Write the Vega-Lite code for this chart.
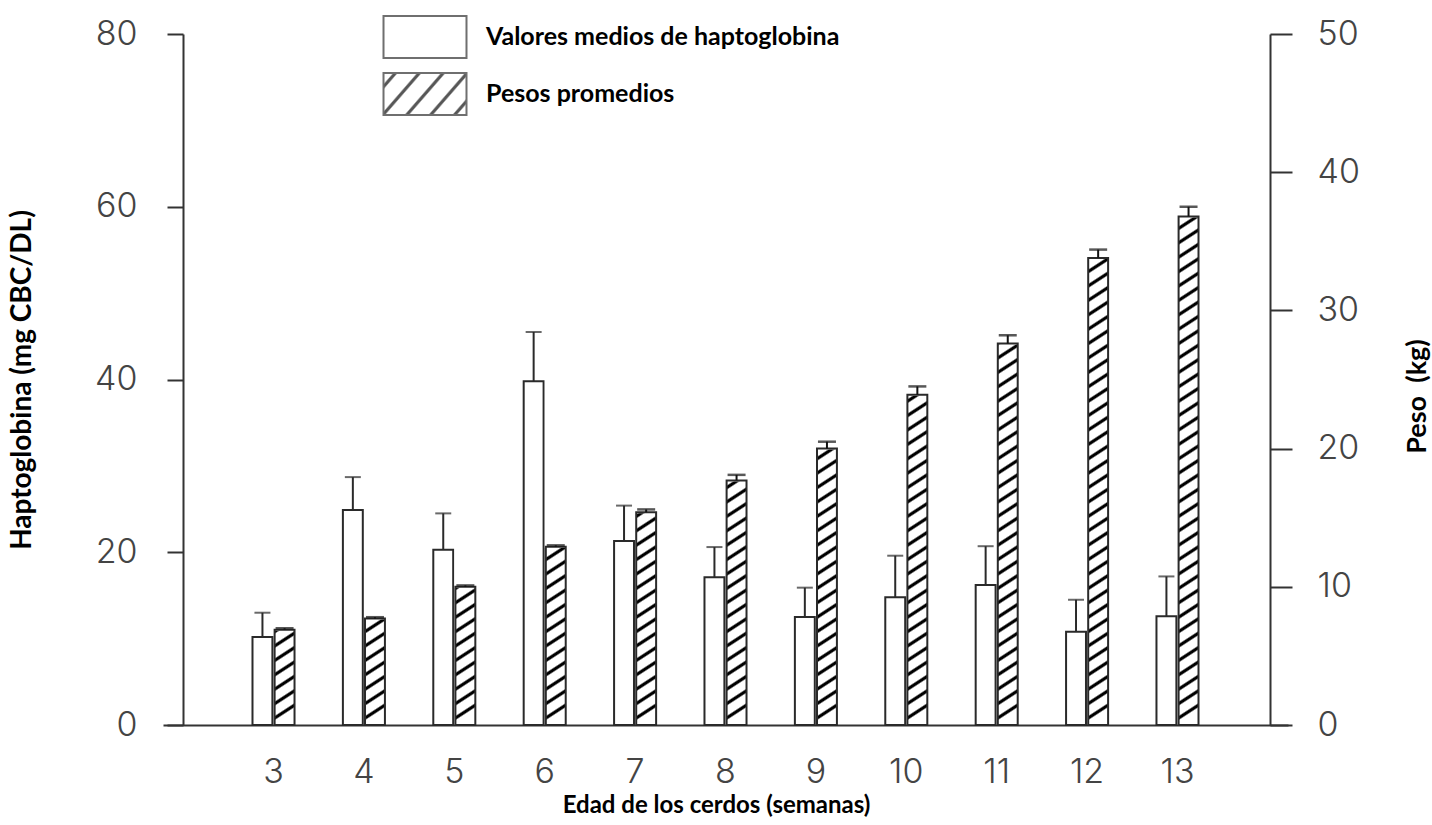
{
  "$schema": "https://vega.github.io/schema/vega-lite/v6.json",
  "width": 1125,
  "height": 691,
  "autosize": {"type": "none"},
  "padding": {"left": 163, "top": 34, "right": 144, "bottom": 100},
  "background": "white",
  "config": {"view": {"stroke": null}},
  "data": {
    "values": [
      {"semana": 3, "serie": "Valores medios de haptoglobina", "valor": 10.2, "sup": 13.0},
      {"semana": 4, "serie": "Valores medios de haptoglobina", "valor": 24.9, "sup": 28.7},
      {"semana": 5, "serie": "Valores medios de haptoglobina", "valor": 20.3, "sup": 24.5},
      {"semana": 6, "serie": "Valores medios de haptoglobina", "valor": 39.8, "sup": 45.5},
      {"semana": 7, "serie": "Valores medios de haptoglobina", "valor": 21.3, "sup": 25.4},
      {"semana": 8, "serie": "Valores medios de haptoglobina", "valor": 17.1, "sup": 20.6},
      {"semana": 9, "serie": "Valores medios de haptoglobina", "valor": 12.5, "sup": 15.9},
      {"semana": 10, "serie": "Valores medios de haptoglobina", "valor": 14.8, "sup": 19.6},
      {"semana": 11, "serie": "Valores medios de haptoglobina", "valor": 16.2, "sup": 20.7},
      {"semana": 12, "serie": "Valores medios de haptoglobina", "valor": 10.8, "sup": 14.5},
      {"semana": 13, "serie": "Valores medios de haptoglobina", "valor": 12.6, "sup": 17.2},
      {"semana": 3, "serie": "Pesos promedios", "valor": 6.9, "sup": 7.0},
      {"semana": 4, "serie": "Pesos promedios", "valor": 7.7, "sup": 7.8},
      {"semana": 5, "serie": "Pesos promedios", "valor": 10.0, "sup": 10.1},
      {"semana": 6, "serie": "Pesos promedios", "valor": 12.9, "sup": 13.0},
      {"semana": 7, "serie": "Pesos promedios", "valor": 15.4, "sup": 15.6},
      {"semana": 8, "serie": "Pesos promedios", "valor": 17.7, "sup": 18.1},
      {"semana": 9, "serie": "Pesos promedios", "valor": 20.0, "sup": 20.5},
      {"semana": 10, "serie": "Pesos promedios", "valor": 23.9, "sup": 24.5},
      {"semana": 11, "serie": "Pesos promedios", "valor": 27.6, "sup": 28.2},
      {"semana": 12, "serie": "Pesos promedios", "valor": 33.8, "sup": 34.4},
      {"semana": 13, "serie": "Pesos promedios", "valor": 36.8, "sup": 37.5}
    ]
  },
  "encoding": {
    "x": {
      "field": "semana",
      "type": "ordinal",
      "scale": {"paddingInner": 0.535, "paddingOuter": 0.99},
      "axis": {
        "title": "Edad de los cerdos (semanas)",
        "labelAngle": 0,
        "ticks": false,
        "tickSize": 0,
        "labelPadding": 30,
        "labelFont": "Inter",
        "labelFontWeight": 300,
        "labelFontSize": 34,
        "labelColor": "#444",
        "domainColor": "#333",
        "domainWidth": 2,
        "titleFont": "Lato",
        "titleFontWeight": "bold",
        "titleFontSize": 24,
        "titleColor": "#000",
        "titleX": 553,
        "titleY": 80,
        "titleBaseline": "middle"
      }
    },
    "xOffset": {
      "field": "serie",
      "type": "nominal",
      "scale": {"domain": ["Valores medios de haptoglobina", "Pesos promedios"], "paddingInner": 0.1}
    }
  },
  "layer": [
    {
      "transform": [{"filter": "datum.serie === 'Valores medios de haptoglobina'"}],
      "encoding": {
        "y": {
          "field": "valor",
          "type": "quantitative",
          "scale": {"domain": [0, 80], "nice": false},
          "axis": {
            "orient": "left",
            "offset": -20,
            "values": [0, 20, 40, 60, 80],
            "grid": false,
            "tickSize": 16,
            "tickWidth": 2,
            "tickColor": "#333",
            "domainColor": "#333",
            "domainWidth": 2,
            "labelPadding": 30,
            "labelFont": "Inter",
            "labelFontWeight": 300,
            "labelFontSize": 34,
            "labelColor": "#444",
            "title": "Haptoglobina (mg CBC/DL)",
            "titleFont": "Lato",
            "titleFontWeight": "bold",
            "titleFontSize": 28,
            "titleColor": "#000",
            "titleX": -161,
            "titleY": 345.5,
            "titleAngle": -90,
            "titleBaseline": "middle",
            "titleAlign": "center"
          }
        }
      },
      "layer": [
        {"mark": {"type": "bar", "fill": "#ffffff", "stroke": "#2a2a2a", "strokeWidth": 2}},
        {"mark": {"type": "rule", "stroke": "#2a2a2a", "strokeWidth": 2}, "encoding": {"y2": {"field": "sup"}}},
        {"mark": {"type": "tick", "orient": "horizontal", "size": 16, "thickness": 2, "color": "#2a2a2a"}, "encoding": {"y": {"field": "sup", "type": "quantitative"}}}
      ]
    },
    {
      "transform": [{"filter": "datum.serie === 'Pesos promedios'"}],
      "encoding": {
        "y": {
          "field": "valor",
          "type": "quantitative",
          "scale": {"domain": [0, 50], "nice": false},
          "axis": {
            "orient": "right",
            "offset": -18,
            "values": [0, 10, 20, 30, 40, 50],
            "grid": false,
            "tickSize": 22,
            "tickWidth": 2,
            "tickColor": "#333",
            "domainColor": "#333",
            "domainWidth": 2,
            "labelPadding": 25,
            "labelFont": "Inter",
            "labelFontWeight": 300,
            "labelFontSize": 34,
            "labelColor": "#444",
            "title": "Peso\u00a0\u00a0(kg)",
            "titleFont": "Lato",
            "titleFontWeight": "bold",
            "titleFontSize": 27,
            "titleColor": "#000",
            "titleX": 147,
            "titleY": 362,
            "titleAngle": -90,
            "titleBaseline": "middle",
            "titleAlign": "center"
          }
        }
      },
      "layer": [
        {
          "mark": {
            "type": "bar",
            "fill": {
              "gradient": "linear",
              "x1": 0, "y1": 0, "x2": 0.0187, "y2": 1,
              "stops": [
                {"offset": 0.0064, "color": "#fff"}, {"offset": 0.0089, "color": "#000"}, {"offset": 0.0119, "color": "#000"}, {"offset": 0.0144, "color": "#fff"},
                {"offset": 0.0273, "color": "#fff"}, {"offset": 0.0298, "color": "#000"}, {"offset": 0.0328, "color": "#000"}, {"offset": 0.0353, "color": "#fff"},
                {"offset": 0.0481, "color": "#fff"}, {"offset": 0.0506, "color": "#000"}, {"offset": 0.0536, "color": "#000"}, {"offset": 0.0561, "color": "#fff"},
                {"offset": 0.0689, "color": "#fff"}, {"offset": 0.0714, "color": "#000"}, {"offset": 0.0744, "color": "#000"}, {"offset": 0.0769, "color": "#fff"},
                {"offset": 0.0898, "color": "#fff"}, {"offset": 0.0923, "color": "#000"}, {"offset": 0.0953, "color": "#000"}, {"offset": 0.0978, "color": "#fff"},
                {"offset": 0.1106, "color": "#fff"}, {"offset": 0.1131, "color": "#000"}, {"offset": 0.1161, "color": "#000"}, {"offset": 0.1186, "color": "#fff"},
                {"offset": 0.1314, "color": "#fff"}, {"offset": 0.1339, "color": "#000"}, {"offset": 0.1369, "color": "#000"}, {"offset": 0.1394, "color": "#fff"},
                {"offset": 0.1523, "color": "#fff"}, {"offset": 0.1548, "color": "#000"}, {"offset": 0.1578, "color": "#000"}, {"offset": 0.1603, "color": "#fff"},
                {"offset": 0.1731, "color": "#fff"}, {"offset": 0.1756, "color": "#000"}, {"offset": 0.1786, "color": "#000"}, {"offset": 0.1811, "color": "#fff"},
                {"offset": 0.1939, "color": "#fff"}, {"offset": 0.1964, "color": "#000"}, {"offset": 0.1994, "color": "#000"}, {"offset": 0.2019, "color": "#fff"},
                {"offset": 0.2148, "color": "#fff"}, {"offset": 0.2173, "color": "#000"}, {"offset": 0.2203, "color": "#000"}, {"offset": 0.2228, "color": "#fff"},
                {"offset": 0.2356, "color": "#fff"}, {"offset": 0.2381, "color": "#000"}, {"offset": 0.2411, "color": "#000"}, {"offset": 0.2436, "color": "#fff"},
                {"offset": 0.2564, "color": "#fff"}, {"offset": 0.2589, "color": "#000"}, {"offset": 0.2619, "color": "#000"}, {"offset": 0.2644, "color": "#fff"},
                {"offset": 0.2773, "color": "#fff"}, {"offset": 0.2798, "color": "#000"}, {"offset": 0.2828, "color": "#000"}, {"offset": 0.2853, "color": "#fff"},
                {"offset": 0.2981, "color": "#fff"}, {"offset": 0.3006, "color": "#000"}, {"offset": 0.3036, "color": "#000"}, {"offset": 0.3061, "color": "#fff"},
                {"offset": 0.3189, "color": "#fff"}, {"offset": 0.3214, "color": "#000"}, {"offset": 0.3244, "color": "#000"}, {"offset": 0.3269, "color": "#fff"},
                {"offset": 0.3398, "color": "#fff"}, {"offset": 0.3423, "color": "#000"}, {"offset": 0.3453, "color": "#000"}, {"offset": 0.3478, "color": "#fff"},
                {"offset": 0.3606, "color": "#fff"}, {"offset": 0.3631, "color": "#000"}, {"offset": 0.3661, "color": "#000"}, {"offset": 0.3686, "color": "#fff"},
                {"offset": 0.3814, "color": "#fff"}, {"offset": 0.3839, "color": "#000"}, {"offset": 0.3869, "color": "#000"}, {"offset": 0.3894, "color": "#fff"},
                {"offset": 0.4023, "color": "#fff"}, {"offset": 0.4048, "color": "#000"}, {"offset": 0.4078, "color": "#000"}, {"offset": 0.4103, "color": "#fff"},
                {"offset": 0.4231, "color": "#fff"}, {"offset": 0.4256, "color": "#000"}, {"offset": 0.4286, "color": "#000"}, {"offset": 0.4311, "color": "#fff"},
                {"offset": 0.4439, "color": "#fff"}, {"offset": 0.4464, "color": "#000"}, {"offset": 0.4494, "color": "#000"}, {"offset": 0.4519, "color": "#fff"},
                {"offset": 0.4648, "color": "#fff"}, {"offset": 0.4673, "color": "#000"}, {"offset": 0.4703, "color": "#000"}, {"offset": 0.4728, "color": "#fff"},
                {"offset": 0.4856, "color": "#fff"}, {"offset": 0.4881, "color": "#000"}, {"offset": 0.4911, "color": "#000"}, {"offset": 0.4936, "color": "#fff"},
                {"offset": 0.5064, "color": "#fff"}, {"offset": 0.5089, "color": "#000"}, {"offset": 0.5119, "color": "#000"}, {"offset": 0.5144, "color": "#fff"},
                {"offset": 0.5273, "color": "#fff"}, {"offset": 0.5298, "color": "#000"}, {"offset": 0.5328, "color": "#000"}, {"offset": 0.5353, "color": "#fff"},
                {"offset": 0.5481, "color": "#fff"}, {"offset": 0.5506, "color": "#000"}, {"offset": 0.5536, "color": "#000"}, {"offset": 0.5561, "color": "#fff"},
                {"offset": 0.5689, "color": "#fff"}, {"offset": 0.5714, "color": "#000"}, {"offset": 0.5744, "color": "#000"}, {"offset": 0.5769, "color": "#fff"},
                {"offset": 0.5898, "color": "#fff"}, {"offset": 0.5923, "color": "#000"}, {"offset": 0.5953, "color": "#000"}, {"offset": 0.5978, "color": "#fff"},
                {"offset": 0.6106, "color": "#fff"}, {"offset": 0.6131, "color": "#000"}, {"offset": 0.6161, "color": "#000"}, {"offset": 0.6186, "color": "#fff"},
                {"offset": 0.6314, "color": "#fff"}, {"offset": 0.6339, "color": "#000"}, {"offset": 0.6369, "color": "#000"}, {"offset": 0.6394, "color": "#fff"},
                {"offset": 0.6523, "color": "#fff"}, {"offset": 0.6548, "color": "#000"}, {"offset": 0.6578, "color": "#000"}, {"offset": 0.6603, "color": "#fff"},
                {"offset": 0.6731, "color": "#fff"}, {"offset": 0.6756, "color": "#000"}, {"offset": 0.6786, "color": "#000"}, {"offset": 0.6811, "color": "#fff"},
                {"offset": 0.6939, "color": "#fff"}, {"offset": 0.6964, "color": "#000"}, {"offset": 0.6994, "color": "#000"}, {"offset": 0.7019, "color": "#fff"},
                {"offset": 0.7148, "color": "#fff"}, {"offset": 0.7173, "color": "#000"}, {"offset": 0.7203, "color": "#000"}, {"offset": 0.7228, "color": "#fff"},
                {"offset": 0.7356, "color": "#fff"}, {"offset": 0.7381, "color": "#000"}, {"offset": 0.7411, "color": "#000"}, {"offset": 0.7436, "color": "#fff"},
                {"offset": 0.7564, "color": "#fff"}, {"offset": 0.7589, "color": "#000"}, {"offset": 0.7619, "color": "#000"}, {"offset": 0.7644, "color": "#fff"},
                {"offset": 0.7773, "color": "#fff"}, {"offset": 0.7798, "color": "#000"}, {"offset": 0.7828, "color": "#000"}, {"offset": 0.7853, "color": "#fff"},
                {"offset": 0.7981, "color": "#fff"}, {"offset": 0.8006, "color": "#000"}, {"offset": 0.8036, "color": "#000"}, {"offset": 0.8061, "color": "#fff"},
                {"offset": 0.8189, "color": "#fff"}, {"offset": 0.8214, "color": "#000"}, {"offset": 0.8244, "color": "#000"}, {"offset": 0.8269, "color": "#fff"},
                {"offset": 0.8398, "color": "#fff"}, {"offset": 0.8423, "color": "#000"}, {"offset": 0.8453, "color": "#000"}, {"offset": 0.8478, "color": "#fff"},
                {"offset": 0.8606, "color": "#fff"}, {"offset": 0.8631, "color": "#000"}, {"offset": 0.8661, "color": "#000"}, {"offset": 0.8686, "color": "#fff"},
                {"offset": 0.8814, "color": "#fff"}, {"offset": 0.8839, "color": "#000"}, {"offset": 0.8869, "color": "#000"}, {"offset": 0.8894, "color": "#fff"},
                {"offset": 0.9023, "color": "#fff"}, {"offset": 0.9048, "color": "#000"}, {"offset": 0.9078, "color": "#000"}, {"offset": 0.9103, "color": "#fff"},
                {"offset": 0.9231, "color": "#fff"}, {"offset": 0.9256, "color": "#000"}, {"offset": 0.9286, "color": "#000"}, {"offset": 0.9311, "color": "#fff"},
                {"offset": 0.9439, "color": "#fff"}, {"offset": 0.9464, "color": "#000"}, {"offset": 0.9494, "color": "#000"}, {"offset": 0.9519, "color": "#fff"},
                {"offset": 0.9648, "color": "#fff"}, {"offset": 0.9673, "color": "#000"}, {"offset": 0.9703, "color": "#000"}, {"offset": 0.9728, "color": "#fff"},
                {"offset": 0.9856, "color": "#fff"}, {"offset": 0.9881, "color": "#000"}, {"offset": 0.9911, "color": "#000"}, {"offset": 0.9936, "color": "#fff"}
              ]
            }
          },
          "encoding": {
            "y": {"datum": 50, "type": "quantitative"},
            "y2": {"datum": 0}
          }
        },
        {"mark": {"type": "bar", "fill": "#ffffff", "stroke": "#ffffff", "strokeWidth": 2}, "encoding": {"y2": {"datum": 50}}},
        {"mark": {"type": "bar", "fill": "transparent", "stroke": "#2a2a2a", "strokeWidth": 2}},
        {"mark": {"type": "rule", "stroke": "#111", "strokeWidth": 2}, "encoding": {"y2": {"field": "sup"}}},
        {"mark": {"type": "tick", "orient": "horizontal", "size": 18, "thickness": 2.5, "color": "#111"}, "encoding": {"y": {"field": "sup", "type": "quantitative"}}}
      ]
    },
    {
      "transform": [{"filter": "datum.valor < 0"}],
      "mark": {"type": "square"},
      "encoding": {
        "fill": {
          "field": "serie",
          "type": "nominal",
          "scale": {
            "domain": ["Valores medios de haptoglobina", "Pesos promedios"],
            "range": [
              "#ffffff",
              {"expr": "{'gradient': 'linear', 'x1': 0, 'y1': 0, 'x2': 1.206, 'y2': 0.531, 'stops': [{'offset': 0.075, 'color': '#fff'}, {'offset': 0.09, 'color': '#111'}, {'offset': 0.11, 'color': '#111'}, {'offset': 0.125, 'color': '#fff'}, {'offset': 0.275, 'color': '#fff'}, {'offset': 0.29, 'color': '#111'}, {'offset': 0.31, 'color': '#111'}, {'offset': 0.325, 'color': '#fff'}, {'offset': 0.475, 'color': '#fff'}, {'offset': 0.49, 'color': '#111'}, {'offset': 0.51, 'color': '#111'}, {'offset': 0.525, 'color': '#fff'}, {'offset': 0.675, 'color': '#fff'}, {'offset': 0.69, 'color': '#111'}, {'offset': 0.71, 'color': '#111'}, {'offset': 0.725, 'color': '#fff'}, {'offset': 0.875, 'color': '#fff'}, {'offset': 0.89, 'color': '#111'}, {'offset': 0.91, 'color': '#111'}, {'offset': 0.925, 'color': '#fff'}]}"}
            ]
          },
          "legend": {
            "orient": "none",
            "legendX": 240,
            "legendY": -19,
            "title": null,
            "padding": 0,
            "symbolType": "M-1.976,-1H1.976V1H-1.976Z",
            "symbolSize": 1764,
            "symbolStrokeColor": "#333",
            "symbolStrokeWidth": 2,
            "labelFont": "Lato",
            "labelFontWeight": "bold",
            "labelFontSize": 25,
            "labelColor": "#000",
            "labelOffset": 39,
            "labelLimit": 600,
            "rowPadding": 7
          }
        }
      }
    }
  ],
  "resolve": {"scale": {"y": "independent"}}
}
